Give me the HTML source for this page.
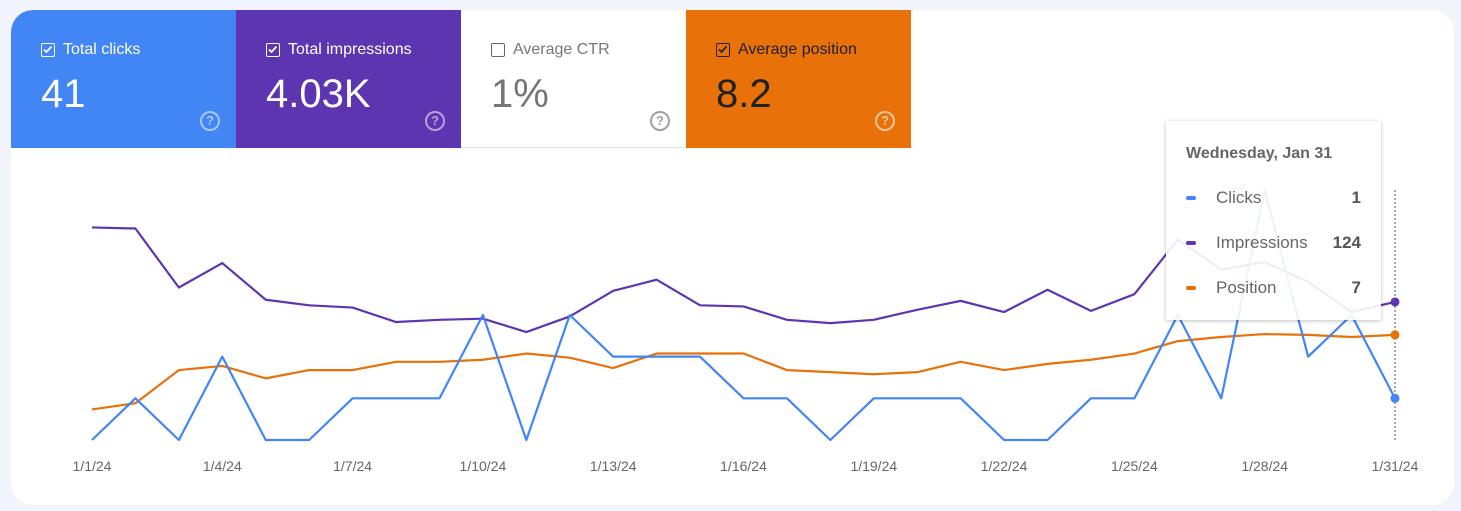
<!DOCTYPE html>
<html><head><meta charset="utf-8">
<style>
body{margin:0;width:1461px;height:511px;background:#f1f4fb;font-family:"Liberation Sans",sans-serif;overflow:hidden;position:relative}
#card{position:absolute;left:11px;top:10px;width:1443px;height:495px;background:#fff;border-radius:22px;overflow:hidden}
.m{position:absolute;top:0;width:225px;height:138px;box-sizing:border-box;padding-left:30px}
.lab{position:absolute;top:31px;left:30px;font-size:16px;display:flex;align-items:center}
.cb{width:14px;height:14px;border:1.5px solid currentColor;border-radius:2px;margin-right:8px;position:relative;box-sizing:border-box}
.val{position:absolute;top:62px;left:30px;font-size:40px}
.q{position:absolute;left:189px;top:101px;width:20px;height:20px;border-radius:50%;border:2px solid currentColor;box-sizing:border-box;font-size:13px;font-weight:bold;text-align:center;line-height:16px;opacity:.55}
#tip{position:absolute;left:1166px;top:121px;width:215px;height:199px;background:rgba(255,255,255,0.9);box-shadow:0 1px 4px rgba(0,0,0,.25);border-radius:2px}
.tr{position:absolute;left:20px;width:175px;font-size:17px;color:#666;display:flex;align-items:center}
.tr i{display:inline-block;width:10px;height:4px;border-radius:2px;margin-right:20px}
.tr b{margin-left:auto;color:#555}
</style></head><body>
<div id="card">
 <div class="m" style="left:0;background:#4285f4;color:#fff;border-top-left-radius:22px">
  <div class="lab"><span class="cb"><svg width="11" height="11" style="position:absolute;left:0;top:0"><path d="M2 5.5l2.5 2.5 5-5.5" stroke="#fff" stroke-width="1.8" fill="none"/></svg></span>Total clicks</div>
  <div class="val">41</div><div class="q">?</div></div>
 <div class="m" style="left:225px;background:#5e35b1;color:#fff">
  <div class="lab"><span class="cb"><svg width="11" height="11" style="position:absolute;left:0;top:0"><path d="M2 5.5l2.5 2.5 5-5.5" stroke="#fff" stroke-width="1.8" fill="none"/></svg></span>Total impressions</div>
  <div class="val">4.03K</div><div class="q">?</div></div>
 <div class="m" style="left:450px;background:#fff;color:#777;border-bottom:1px solid #e5e5e5">
  <div class="lab" style="color:#777"><span class="cb" style="color:#666"></span>Average CTR</div>
  <div class="val" style="color:#757575">1%</div><div class="q" style="color:#555">?</div></div>
 <div class="m" style="left:675px;background:#e8710a;color:#202124">
  <div class="lab"><span class="cb"><svg width="11" height="11" style="position:absolute;left:0;top:0"><path d="M2 5.5l2.5 2.5 5-5.5" stroke="#202124" stroke-width="1.8" fill="none"/></svg></span>Average position</div>
  <div class="val">8.2</div><div class="q" style="color:#fff;opacity:.6">?</div></div>
</div>
<svg id="chart" width="1461" height="511" style="position:absolute;left:0;top:0"></svg>
<div id="tip">
 <div style="position:absolute;left:20px;top:24px;font-size:16px;font-weight:bold;color:#666">Wednesday, Jan 31</div>
 <div class="tr" style="top:67px"><i style="background:#4285f4"></i>Clicks<b>1</b></div>
 <div class="tr" style="top:112px"><i style="background:#5e35b1"></i>Impressions<b>124</b></div>
 <div class="tr" style="top:157px"><i style="background:#e8710a"></i>Position<b>7</b></div>
</div>
<script>
const days = Array.from({length:31},(_,i)=>i+1);
const clicks = [0,1,0,2,0,0,1,1,1,3,0,3,2,2,2,1,1,0,1,1,1,0,0,1,1,3,1,6,2,3,1];
const impressions = [191,190,137,159,126,121,119,106,108,109,97,111,134,144,121,120,108,105,108,117,125,115,135,116,131,180,153,160,142,115,124];
const position = [10.6,10.3,8.7,8.5,9.1,8.7,8.7,8.3,8.3,8.2,7.9,8.1,8.6,7.9,7.9,7.9,8.7,8.8,8.9,8.8,8.3,8.7,8.4,8.2,7.9,7.3,7.1,6.96,7.0,7.1,7.0];
const tickLabels = ['1/1/24','1/4/24','1/7/24','1/10/24','1/13/24','1/16/24','1/19/24','1/22/24','1/25/24','1/28/24','1/31/24'];
const tickDays = [1,4,7,10,13,16,19,22,25,28,31];
const ns='http://www.w3.org/2000/svg', svg=document.getElementById('chart');
const x = d => 92 + (d-1)*(1303/30);
const yC = v => 440 - v*41.67;
const yI = v => 440 - v*1.113;
const yP = v => 190 + v*20.7;
function mk(t,a){const e=document.createElementNS(ns,t);for(const k in a)e.setAttribute(k,a[k]);svg.appendChild(e);return e;}
const cur=mk('line',{x1:x(31),x2:x(31),y1:190,y2:440,stroke:'#555','stroke-dasharray':'2,2','stroke-width':1});


function series(vals,fy,col,name){
 const p=mk('polyline',{points:vals.map((v,i)=>x(days[i])+','+fy(v)).join(' '),fill:'none',stroke:col,'stroke-width':2.2,'stroke-linejoin':'round'});
 
 
 const c=mk('circle',{cx:x(days[vals.length-1]),cy:fy(vals[vals.length-1]),r:4.5,fill:col});
 
 
}
series(impressions,yI,'#5e35b1','impressions');
series(position,yP,'#e8710a','position');
series(clicks,yC,'#4285f4','clicks');
tickDays.forEach((d,i)=>{
 const t=mk('text',{x:x(d),y:471,'text-anchor':'middle','font-size':14,fill:'#666','font-family':'Liberation Sans, sans-serif'});
 t.textContent=tickLabels[i];
 
 
});
</script>
</body></html>
